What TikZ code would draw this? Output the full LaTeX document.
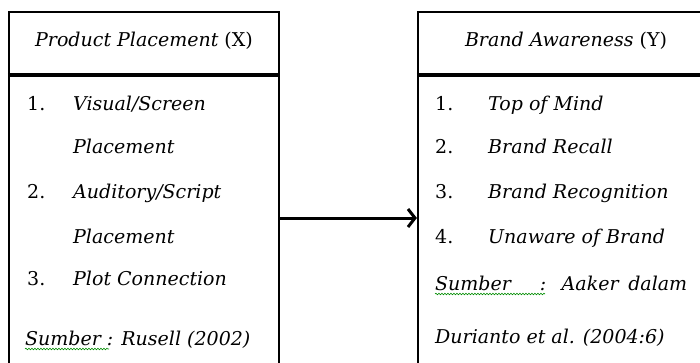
\documentclass[tikz,border=0pt]{standalone}
\usepackage{fontspec}
\setmainfont{DejaVu Serif}
\usetikzlibrary{arrows.meta,positioning,decorations.pathmorphing}

\tikzset{
    box/.style={draw=black, line width=2.2pt, rectangle, inner sep=0pt},
    rule/.style={draw=black, line width=4pt},
    txt/.style={anchor=base west, inner sep=0pt, font=\fontsize{19}{22}\selectfont},
    itm/.style={txt, font=\fontsize{19}{22}\selectfont\itshape},
    head/.style={anchor=base, inner sep=0pt, font=\fontsize{19}{22}\selectfont},
    wavy/.style={draw=green!55!black, line width=0.6pt, decorate,
        decoration={snake, amplitude=0.8pt, segment length=3pt}}
}

% name, x of number, x of text, baseline, number, text
\newcommand{\listline}[6]{
    \node[txt] (#1n) at (#2, #4) {#5};
    \node[itm] (#1t) at (#3, #4) {#6};
}

\begin{document}
\begin{tikzpicture}[x=1pt, y=-1pt]
        \clip (0,0) rectangle (700,362);

        % the two boxes, cut off at the bottom
        \node[box, minimum width=270pt, minimum height=412pt] (xbox) at (144, 218) {};
        \node[box, minimum width=296pt, minimum height=412pt] (ybox) at (566, 218) {};

        \draw[rule] (xbox.west |- 0,75) -- (xbox.east |- 0,75);
        \draw[rule] (ybox.west |- 0,75) -- (ybox.east |- 0,75);

        \node[head] (xhead) at (144, 46) {\textit{Product Placement} (X)};
        \node[head] (yhead) at (566, 46) {\textit{Brand Awareness} (Y)};

        % variabel X
        \listline{xa}{27}{73}{110}{1.}{Visual/Screen};
        \node[itm] (xa2) at (73, 153) {Placement};
        \listline{xb}{27}{73}{198}{2.}{Auditory/Script};
        \node[itm] (xb2) at (73, 243) {Placement};
        \listline{xc}{27}{73}{285}{3.}{Plot Connection};
        \node[itm] (xsrc) at (25, 345) {Sumber : Rusell (2002)};
        \draw[wavy] ([yshift=-4pt]xsrc.base west) -- ++(84,0);

        % variabel Y
        \listline{ya}{435}{488}{110}{1.}{Top of Mind};
        \listline{yb}{435}{488}{153}{2.}{Brand Recall};
        \listline{yc}{435}{488}{198}{3.}{Brand Recognition};
        \listline{yd}{435}{488}{243}{4.}{Unaware of Brand};
        \node[itm] (ysrc) at (435, 290) {\makebox[252pt][s]{Sumber\ \ \ : Aaker dalam}};
        \draw[wavy] ([yshift=-4pt]ysrc.base west) -- ++(110,0);
        \node[itm] (ysrc2) at (435, 343) {Durianto et al. (2004:6)};

        \path[-{Straight Barb[length=7pt, width=18pt]}, line width=3pt] (xbox) edge (ybox);
\end{tikzpicture}
\end{document}
